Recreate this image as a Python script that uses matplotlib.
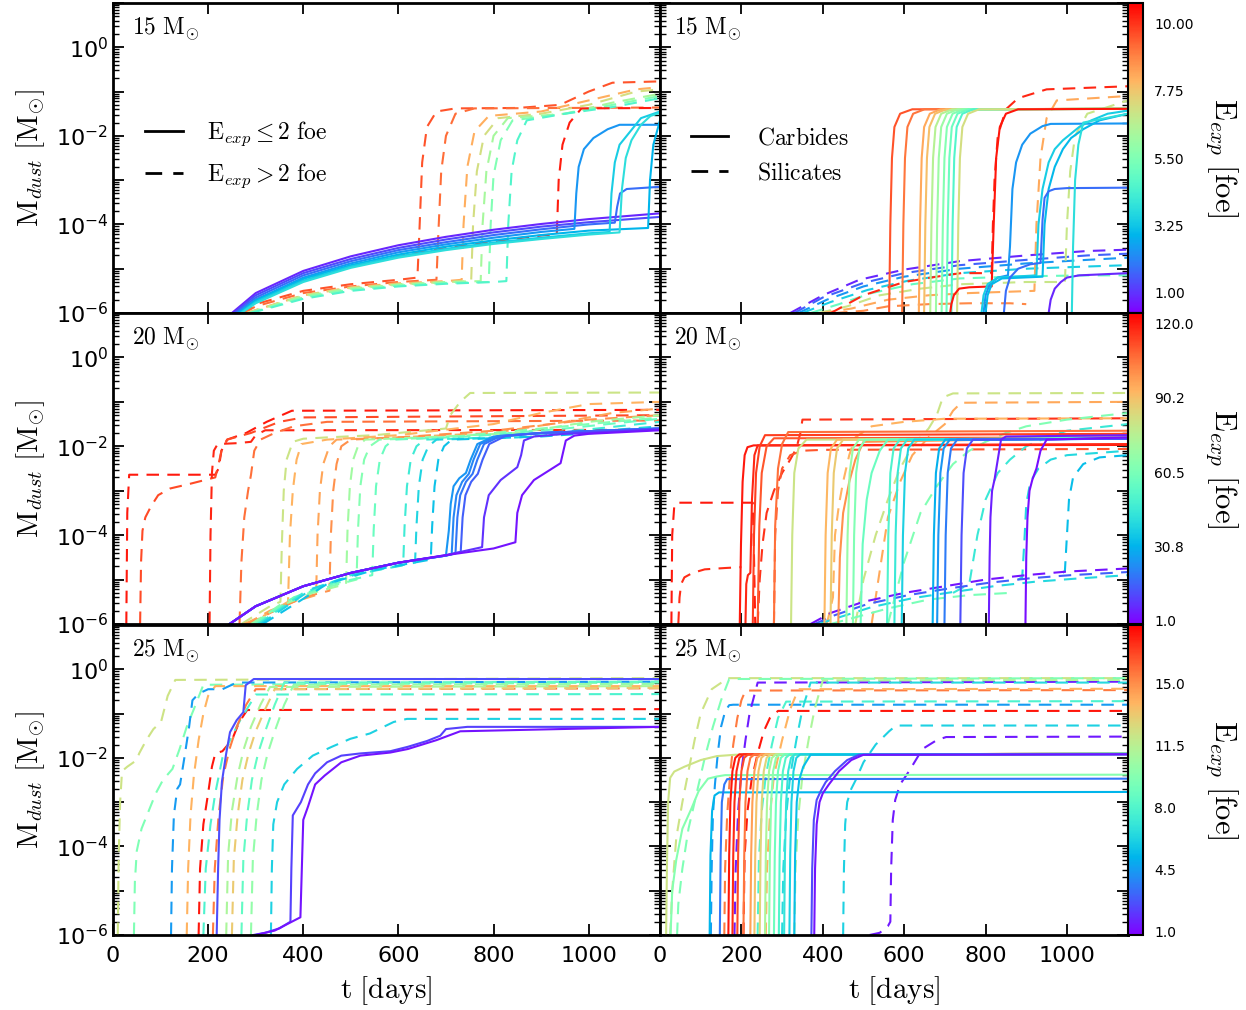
import numpy as np
import matplotlib
matplotlib.use('Agg')
import matplotlib.pyplot as plt
from matplotlib import cm, colors
from matplotlib.ticker import LogLocator, MultipleLocator, FuncFormatter, NullLocator
from matplotlib.lines import Line2D

plt.rcParams['mathtext.fontset'] = 'cm'
plt.rcParams['font.family'] = 'DejaVu Sans'

# ---------------- data: (E_exp, t [days], log10 M_dust) ----------------
# 15 Msun, left: total dust
m15_le2 = [
    (0.8, [250, 300, 400, 500, 600, 700, 800, 900, 1000, 1150],
          [-6, -5.55, -5.05, -4.72, -4.47, -4.28, -4.12, -3.99, -3.88, -3.75]),
    (1.3, [254, 300, 400, 500, 600, 700, 800, 900, 1000, 1150],
          [-6, -5.6, -5.1, -4.78, -4.53, -4.34, -4.18, -4.05, -3.95, -3.83]),
    (1.8, [258, 300, 400, 500, 600, 700, 800, 900, 1000, 1055, 1060, 1066, 1080, 1150],
          [-6, -5.65, -5.15, -4.83, -4.58, -4.4, -4.24, -4.11, -4.0, -3.96, -3.6, -3.3, -3.2, -3.15]),
    (2.4, [262, 300, 400, 500, 600, 700, 800, 900, 970, 974, 979, 990, 1010, 1040, 1065, 1150],
          [-6, -5.7, -5.2, -4.88, -4.63, -4.45, -4.3, -4.17, -4.1, -3.3, -2.7, -2.3, -2.05, -1.85, -1.75, -1.75]),
    (2.9, [265, 300, 400, 500, 600, 700, 800, 900, 1000, 1125, 1129, 1136, 1150],
          [-6, -5.72, -5.23, -4.92, -4.68, -4.5, -4.36, -4.24, -4.14, -4.08, -3.0, -2.2, -1.65]),
    (3.4, [268, 300, 400, 500, 600, 700, 800, 900, 1000, 1044, 1048, 1055, 1065, 1080, 1095, 1110, 1150],
          [-6, -5.75, -5.27, -4.95, -4.72, -4.55, -4.41, -4.3, -4.2, -4.17, -3.3, -2.6, -2.2, -2.0, -1.8, -1.6, -1.45]),
    (3.8, [270, 300, 400, 500, 600, 700, 800, 900, 1000, 1065, 1070, 1078, 1090, 1110, 1130, 1150],
          [-6, -5.78, -5.3, -4.98, -4.75, -4.58, -4.44, -4.33, -4.23, -4.18, -3.2, -2.5, -2.1, -1.75, -1.55, -1.48]),
]
m15_gt2 = [
    (9.6, [270, 300, 400, 500, 600, 640, 644, 650, 660, 680, 720, 850, 940, 1000, 1050, 1150],
          [-6, -5.8, -5.5, -5.35, -5.25, -5.2, -4.2, -2.6, -1.8, -1.45, -1.38, -1.37, -1.3, -1.0, -0.8, -0.77]),
    (9.2, [275, 300, 400, 500, 600, 680, 684, 690, 700, 720, 760, 1150],
          [-6, -5.85, -5.55, -5.4, -5.3, -5.25, -4.2, -2.8, -2.0, -1.5, -1.38, -1.36]),
    (8.2, [280, 400, 500, 600, 700, 733, 737, 745, 760, 790, 900, 1000, 1100, 1150],
          [-6, -5.6, -5.42, -5.33, -5.28, -5.25, -4.0, -2.7, -1.9, -1.55, -1.45, -1.2, -0.95, -0.9]),
    (7.2, [282, 400, 500, 600, 700, 753, 757, 765, 780, 810, 900, 1000, 1100, 1150],
          [-6, -5.6, -5.43, -5.35, -5.3, -5.28, -4.0, -2.8, -2.0, -1.6, -1.5, -1.3, -1.0, -0.95]),
    (6.3, [285, 400, 500, 600, 700, 773, 777, 785, 800, 830, 950, 1050, 1150],
          [-6, -5.62, -5.45, -5.36, -5.3, -5.28, -4.0, -2.8, -2.0, -1.6, -1.5, -1.25, -1.05]),
    (5.5, [288, 400, 500, 600, 700, 790, 794, 800, 815, 840, 950, 1050, 1150],
          [-6, -5.65, -5.47, -5.38, -5.32, -5.3, -4.0, -2.9, -2.1, -1.65, -1.5, -1.3, -1.1]),
    (4.6, [290, 400, 500, 600, 700, 800, 827, 831, 838, 850, 870, 950, 1050, 1150],
          [-6, -5.68, -5.5, -5.4, -5.34, -5.3, -5.28, -4.0, -2.8, -2.1, -1.65, -1.5, -1.35, -1.15]),
    (10.3, [262, 300, 400, 500, 600, 700, 800, 900, 933, 937, 945, 960, 985, 1150],
           [-6, -5.7, -5.25, -4.95, -4.7, -4.52, -4.38, -4.25, -4.22, -3.0, -2.2, -1.7, -1.38, -1.37]),
]
# 15 Msun, right: carbides / silicates
m15_carb = [
    (9.6, [563, 566, 570, 576, 590, 620, 1150], [-6, -4.0, -2.5, -1.8, -1.5, -1.4, -1.39]),
    (9.1, [595, 598, 602, 608, 622, 650, 1150], [-6, -4.0, -2.5, -1.8, -1.5, -1.4, -1.39]),
    (8.3, [636, 639, 643, 649, 663, 690, 1150], [-6, -4.0, -2.5, -1.8, -1.5, -1.4, -1.39]),
    (7.9, [649, 652, 656, 662, 676, 703, 1150], [-6, -4.0, -2.5, -1.8, -1.5, -1.4, -1.39]),
    (6.6, [664, 667, 671, 677, 691, 718, 1150], [-6, -4.0, -2.5, -1.8, -1.5, -1.4, -1.39]),
    (6.1, [678, 681, 685, 691, 705, 732, 1150], [-6, -4.0, -2.5, -1.8, -1.5, -1.4, -1.39]),
    (5.6, [692, 695, 699, 705, 719, 746, 1150], [-6, -4.0, -2.5, -1.8, -1.5, -1.4, -1.39]),
    (5.1, [704, 707, 711, 717, 731, 758, 1150], [-6, -4.0, -2.5, -1.8, -1.5, -1.4, -1.39]),
    (4.6, [716, 719, 723, 729, 743, 770, 1150], [-6, -4.0, -2.5, -1.8, -1.5, -1.4, -1.39]),
    (7.2, [730, 733, 737, 743, 757, 784, 1150], [-6, -4.0, -2.5, -1.8, -1.5, -1.4, -1.39]),
    (10.4, [713, 716, 722, 735, 760, 815, 820, 826, 835, 850, 880, 1150],
           [-6, -5.8, -5.6, -5.45, -5.42, -5.4, -4.0, -2.5, -1.8, -1.5, -1.4, -1.39]),
    (2.4, [795, 800, 810, 830, 855, 860, 866, 875, 890, 910, 940, 960, 1150],
          [-6, -5.6, -5.35, -5.2, -5.15, -4.5, -3.2, -2.6, -2.2, -1.95, -1.78, -1.73, -1.72]),
    (3.4, [790, 795, 805, 830, 925, 930, 940, 955, 970, 990, 1010, 1030, 1060, 1100, 1150],
          [-6, -5.6, -5.35, -5.2, -5.15, -4.0, -3.2, -2.6, -2.3, -2.1, -1.95, -1.8, -1.65, -1.5, -1.43]),
    (3.0, [800, 805, 815, 840, 940, 945, 955, 970, 990, 1010, 1040, 1080, 1150],
          [-6, -5.6, -5.35, -5.22, -5.18, -4.0, -3.2, -2.7, -2.3, -2.05, -1.85, -1.65, -1.5]),
    (1.8, [845, 850, 860, 880, 910, 935, 940, 945, 955, 970, 1000, 1150],
          [-6, -5.5, -5.2, -5.0, -4.9, -4.87, -3.9, -3.4, -3.25, -3.2, -3.18, -3.17]),
    (0.8, [955, 960, 970, 985, 1000, 1030, 1150], [-6, -5.7, -5.45, -5.3, -5.2, -5.15, -5.1]),
    (3.8, [1012, 1015, 1020, 1028, 1040, 1150], [-6, -4.5, -3.0, -2.2, -1.7, -1.5]),
]
m15_sil = [
    (0.8, [320, 400, 490, 600, 736, 900, 1050, 1150], [-6, -5.6, -5.25, -5.02, -4.83, -4.7, -4.6, -4.57]),
    (1.6, [330, 400, 500, 600, 736, 900, 1050, 1150], [-6, -5.65, -5.32, -5.1, -4.92, -4.8, -4.7, -4.66]),
    (2.4, [340, 410, 500, 600, 736, 900, 1050, 1150], [-6, -5.7, -5.4, -5.18, -5.0, -4.88, -4.8, -4.75]),
    (3.4, [350, 420, 510, 610, 736, 900, 1050, 1150], [-6, -5.75, -5.48, -5.27, -5.1, -5.0, -4.95, -4.92]),
    (5.0, [370, 440, 520, 620, 736, 900, 1050, 1150], [-6, -5.8, -5.55, -5.35, -5.22, -5.17, -5.15, -5.15]),
    (7.0, [390, 460, 540, 640, 740, 900, 995, 1000, 1008, 1020, 1050, 1150],
          [-6, -5.85, -5.6, -5.45, -5.35, -5.3, -5.3, -4.0, -2.8, -2.0, -1.5, -1.2]),
    (8.3, [400, 470, 560, 660, 760, 920, 925, 935, 950, 975, 1150],
          [-6, -5.9, -5.7, -5.6, -5.55, -5.5, -4.0, -2.5, -1.6, -1.2, -1.1]),
    (8.8, [430, 500, 560, 660, 760, 860, 900], [-6, -5.95, -5.85, -5.8, -5.78, -5.78, -5.8]),
    (10.2, [420, 500, 600, 700, 740, 815, 818, 822, 830, 850, 880, 950, 1150],
           [-6, -5.6, -5.3, -5.15, -5.1, -5.1, -4.0, -3.0, -2.0, -1.4, -1.15, -0.95, -0.88]),
]

# 20 Msun
m20_le2 = [
    (25, [245, 300, 400, 500, 600, 700, 706, 710, 716, 728, 742, 752, 766, 800, 900, 1150],
         [-6, -5.6, -5.15, -4.85, -4.62, -4.46, -3.9, -3.3, -2.9, -2.72, -2.6, -2.3, -1.95, -1.78, -1.7, -1.6]),
    (22, [245, 300, 400, 500, 600, 700, 712, 716, 722, 734, 748, 758, 772, 808, 900, 1150],
         [-6, -5.6, -5.15, -4.85, -4.62, -4.46, -4.43, -3.6, -3.1, -2.8, -2.62, -2.3, -1.95, -1.77, -1.7, -1.6]),
    (19, [245, 300, 400, 500, 600, 700, 720, 724, 730, 742, 756, 766, 780, 815, 900, 1150],
         [-6, -5.6, -5.15, -4.85, -4.62, -4.46, -4.41, -3.6, -3.1, -2.8, -2.62, -2.3, -1.95, -1.77, -1.7, -1.6]),
    (15, [245, 300, 400, 500, 600, 700, 731, 735, 741, 753, 767, 777, 791, 825, 900, 1150],
         [-6, -5.6, -5.15, -4.85, -4.62, -4.46, -4.38, -3.6, -3.1, -2.8, -2.62, -2.3, -1.95, -1.77, -1.7, -1.6]),
    (8, [245, 300, 400, 500, 600, 700, 776, 780, 790, 815, 850, 858, 864, 885, 950, 1150],
        [-6, -5.6, -5.15, -4.85, -4.62, -4.45, -4.27, -3.6, -3.1, -2.76, -2.47, -2.2, -1.87, -1.78, -1.72, -1.62]),
    (3, [245, 300, 400, 500, 600, 700, 800, 846, 850, 860, 885, 941, 947, 952, 970, 1000, 1150],
        [-6, -5.6, -5.15, -4.85, -4.62, -4.45, -4.3, -4.16, -3.5, -3.1, -2.76, -2.38, -2.1, -1.87, -1.76, -1.72, -1.64]),
]
m20_gt2 = [
    (120, [28, 30, 34, 215, 222, 228, 240, 280, 323, 376, 1150],
          [-6, -3.5, -2.64, -2.64, -2.5, -2.1, -1.85, -1.7, -1.45, -1.2, -1.18]),
    (112, [57, 59, 62, 68, 80, 95, 120, 160, 215, 222, 228, 240, 290, 350, 400, 1150],
          [-6, -4.6, -3.9, -3.6, -3.35, -3.1, -2.95, -2.85, -2.7, -2.4, -2.1, -1.85, -1.7, -1.45, -1.35, -1.3]),
    (118, [203, 205, 208, 212, 220, 260, 290, 300, 320, 1150],
          [-6, -4.0, -2.6, -2.1, -1.95, -1.93, -1.9, -1.75, -1.64, -1.63]),
    (106, [266, 270, 276, 284, 290, 297, 310, 340, 380, 450, 1150],
          [-6, -4.6, -3.6, -3.0, -2.65, -2.1, -1.85, -1.7, -1.55, -1.45, -1.42]),
    (80, [270, 300, 330, 352, 355, 359, 365, 378, 400, 450, 550, 650, 700, 709, 730, 751, 1150],
         [-6, -5.8, -5.6, -5.5, -4.2, -3.0, -2.3, -1.9, -1.83, -1.8, -1.75, -1.65, -1.6, -1.3, -1.0, -0.8, -0.79]),
    (93, [275, 320, 360, 368, 372, 378, 386, 396, 450, 600, 800, 900, 1000, 1150],
         [-6, -5.8, -5.55, -5.5, -4.0, -3.0, -2.3, -1.95, -1.85, -1.75, -1.5, -1.25, -1.05, -1.0]),
    (96, [280, 330, 380, 427, 430, 435, 442, 455, 470, 600, 800, 950, 1050, 1150],
         [-6, -5.7, -5.5, -5.35, -4.0, -3.0, -2.4, -2.0, -1.85, -1.8, -1.7, -1.45, -1.25, -1.15]),
    (100, [285, 340, 400, 455, 458, 463, 470, 480, 500, 600, 800, 1000, 1150],
          [-6, -5.7, -5.4, -5.25, -4.0, -3.0, -2.4, -2.0, -1.85, -1.8, -1.65, -1.4, -1.3]),
    (70, [290, 350, 420, 490, 493, 498, 505, 515, 530, 650, 850, 1000, 1150],
         [-6, -5.6, -5.3, -5.1, -3.9, -2.9, -2.3, -2.0, -1.85, -1.8, -1.7, -1.45, -1.3]),
    (63, [295, 360, 440, 512, 515, 520, 528, 540, 560, 700, 900, 1150],
         [-6, -5.5, -5.2, -5.0, -3.9, -2.9, -2.3, -2.0, -1.85, -1.8, -1.6, -1.35]),
    (57, [300, 380, 460, 545, 548, 553, 561, 573, 590, 750, 950, 1150],
         [-6, -5.4, -5.1, -4.9, -3.9, -2.9, -2.3, -2.0, -1.85, -1.78, -1.6, -1.38]),
    (46, [305, 400, 500, 610, 613, 618, 626, 638, 655, 800, 1000, 1150],
         [-6, -5.3, -4.9, -4.68, -3.8, -2.9, -2.3, -2.0, -1.85, -1.8, -1.62, -1.45]),
    (39, [310, 420, 520, 635, 638, 643, 651, 663, 680, 850, 1150],
         [-6, -5.2, -4.85, -4.62, -3.8, -2.9, -2.3, -2.0, -1.85, -1.8, -1.55]),
    (34, [315, 450, 550, 668, 671, 676, 684, 696, 712, 900, 1150],
         [-6, -5.1, -4.78, -4.55, -3.8, -2.9, -2.3, -2.0, -1.85, -1.78, -1.6]),
]
m20_carb = [
    (120, [196, 199, 203, 208, 215, 230, 1150], [-6, -4.2, -2.8, -2.2, -2.02, -1.98, -1.97]),
    (118, [210, 212, 216, 222, 226, 232, 240, 1150], [-6, -5.1, -4.9, -4.85, -3.2, -2.2, -1.98, -1.95]),
    (114, [228, 231, 236, 245, 258, 1150], [-6, -4.0, -2.6, -2.0, -1.75, -1.72]),
    (110, [240, 244, 250, 262, 280, 1150], [-6, -3.8, -2.6, -2.0, -1.82, -1.8]),
    (106, [280, 283, 290, 300, 315, 1150], [-6, -3.8, -2.5, -1.95, -1.68, -1.65]),
    (80, [322, 325, 330, 340, 360, 1150], [-6, -4.0, -2.6, -2.05, -1.85, -1.83]),
    (92, [404, 407, 412, 420, 435, 1150], [-6, -4.0, -2.6, -2.05, -1.85, -1.83]),
    (88, [419, 422, 427, 435, 450, 1150], [-6, -4.0, -2.6, -2.05, -1.85, -1.83]),
    (100, [438, 442, 450, 465, 480, 500, 1150], [-6, -4.5, -3.5, -2.8, -2.3, -1.9, -1.8]),
    (68, [458, 461, 466, 474, 489, 1150], [-6, -4.0, -2.6, -2.05, -1.85, -1.83]),
    (62, [474, 477, 482, 490, 505, 1150], [-6, -4.0, -2.6, -2.05, -1.85, -1.83]),
    (57, [493, 498, 508, 520, 540, 560, 1150], [-6, -4.2, -3.2, -2.6, -2.1, -1.85, -1.8]),
    (50, [558, 561, 566, 574, 589, 1150], [-6, -4.0, -2.6, -2.05, -1.85, -1.83]),
    (45, [576, 579, 584, 592, 607, 1150], [-6, -4.0, -2.6, -2.05, -1.85, -1.83]),
    (38, [594, 597, 602, 610, 625, 1150], [-6, -4.0, -2.6, -2.05, -1.85, -1.83]),
    (30, [670, 673, 678, 686, 701, 1150], [-6, -4.0, -2.6, -2.05, -1.85, -1.83]),
    (25, [681, 684, 689, 697, 712, 1150], [-6, -4.0, -2.6, -2.05, -1.85, -1.83]),
    (20, [699, 702, 707, 715, 730, 1150], [-6, -4.0, -2.6, -2.05, -1.85, -1.83]),
    (12, [738, 741, 746, 754, 769, 1150], [-6, -4.0, -2.6, -2.05, -1.85, -1.83]),
    (5, [808, 810, 812, 816, 822, 830, 838, 850, 1150], [-6, -4.5, -3.6, -3.0, -2.75, -2.3, -1.85, -1.78, -1.75]),
    (2, [898, 900, 903, 908, 915, 925, 935, 950, 1150], [-6, -4.5, -3.6, -3.0, -2.75, -2.5, -2.1, -1.85, -1.8]),
]
m20_sil = [
    (120, [28, 30, 35, 40, 228, 230, 232, 234], [-6, -4.0, -3.35, -3.27, -3.27, -4.0, -5.0, -6.0]),
    (117, [45, 48, 52, 60, 80, 110, 160, 200], [-6, -5.4, -5.1, -4.95, -4.85, -4.77, -4.74, -4.72]),
    (116, [240, 245, 252, 262, 280, 300, 320, 335, 345, 350, 1150],
          [-6, -5.0, -4.2, -3.5, -3.0, -2.6, -2.3, -2.05, -1.7, -1.4, -1.37]),
    (110, [280, 283, 290, 300, 320, 350, 400, 1150], [-6, -4.0, -3.0, -2.5, -2.2, -2.1, -2.08, -2.06]),
    (93, [410, 425, 430, 440, 450, 465, 480, 520, 600, 700, 1150],
         [-6, -5.4, -4.0, -3.3, -2.8, -2.2, -1.8, -1.55, -1.45, -1.38, -1.37]),
    (80, [480, 500, 530, 560, 590, 620, 660, 680, 695, 720, 1150],
         [-6, -5.0, -4.0, -3.2, -2.5, -2.0, -1.6, -1.3, -0.9, -0.81, -0.8]),
    (95, [520, 540, 560, 590, 620, 660, 700, 720, 740, 1150],
         [-6, -4.8, -3.6, -2.8, -2.2, -1.8, -1.5, -1.2, -1.02, -1.0]),
    (62, [560, 600, 640, 680, 720, 760, 800, 850, 900, 1000, 1150],
         [-6, -4.6, -3.5, -2.9, -2.4, -2.1, -1.9, -1.7, -1.55, -1.4, -1.25]),
    (45, [720, 760, 780, 800, 830, 860, 900, 950, 1000, 1150],
         [-5.3, -5.1, -4.0, -3.2, -2.6, -2.3, -2.0, -1.8, -1.65, -1.5]),
    (40, [880, 890, 895, 900, 910, 930, 960, 1000, 1150], [-5.0, -4.95, -4.2, -3.3, -2.8, -2.5, -2.3, -2.2, -2.1]),
    (33, [990, 995, 1000, 1005, 1015, 1040, 1080, 1150], [-4.85, -4.8, -4.0, -3.2, -2.7, -2.4, -2.25, -2.2]),
    (3, [370, 420, 500, 600, 700, 800, 900, 1000, 1150], [-6, -5.75, -5.5, -5.3, -5.15, -5.0, -4.9, -4.82, -4.75]),
    (15, [380, 430, 510, 610, 710, 810, 910, 1010, 1150], [-6, -5.8, -5.55, -5.35, -5.2, -5.07, -4.97, -4.9, -4.83]),
    (40, [390, 440, 520, 620, 720, 820, 920, 1020, 1150], [-6, -5.85, -5.62, -5.42, -5.28, -5.15, -5.05, -4.98, -4.9]),
    (60, [420, 480, 560, 660, 760, 860], [-6, -5.85, -5.65, -5.45, -5.35, -5.3]),
]

# 25 Msun
m25_le2 = [
    (2.6, [218, 221, 224, 229, 238, 246, 260, 274, 279, 296, 1150],
          [-6, -4.5, -3.4, -2.54, -1.9, -1.42, -1.15, -0.97, -0.36, -0.22, -0.22]),
    (2.3, [295, 320, 350, 373, 375, 378, 395, 410, 425, 450, 480, 520, 583, 620, 660, 688, 700, 745, 1150],
          [-6, -5.95, -5.85, -5.7, -4.5, -3.3, -3.0, -2.6, -2.35, -2.1, -1.95, -1.9, -1.85, -1.75, -1.62, -1.5, -1.35, -1.3, -1.3]),
    (1.3, [300, 340, 394, 397, 400, 410, 425, 445, 480, 520, 583, 620, 680, 730, 1150],
          [-6, -5.9, -5.6, -4.5, -3.4, -3.1, -2.6, -2.4, -2.1, -1.95, -1.88, -1.8, -1.6, -1.4, -1.3]),
]
m25_gt2 = [
    (12.2, [10, 12, 15, 19, 30, 50, 55, 70, 85, 101, 115, 131, 1150],
           [-6, -4.2, -3.0, -2.3, -2.2, -2.05, -1.9, -1.6, -1.35, -1.19, -0.6, -0.24, -0.2]),
    (9.5, [44, 46, 50, 60, 75, 90, 105, 125, 140, 155, 170, 190, 1150],
          [-6, -4.8, -4.1, -3.6, -3.2, -2.8, -2.5, -2.25, -1.8, -1.3, -0.9, -0.35, -0.3]),
    (4.5, [122, 124, 128, 135, 141, 150, 160, 167, 180, 200, 230, 260, 1150],
          [-6, -4.5, -3.3, -2.7, -2.6, -2.0, -1.3, -0.7, -0.55, -0.45, -0.45, -0.3, -0.28]),
    (14.0, [155, 158, 163, 170, 180, 190, 200, 215, 1150], [-6, -4.5, -3.3, -2.4, -1.6, -1.0, -0.6, -0.38, -0.38]),
    (17.8, [180, 183, 190, 200, 208, 215, 230, 250, 265, 282, 1150],
           [-6, -4.5, -3.5, -2.8, -2.2, -1.9, -1.85, -1.6, -1.2, -0.92, -0.9]),
    (7.8, [190, 195, 205, 215, 230, 250, 270, 290, 300, 1150],
          [-6, -4.5, -3.5, -2.8, -2.0, -1.5, -1.1, -0.75, -0.57, -0.56]),
    (15.5, [210, 214, 222, 232, 245, 260, 280, 300, 1150], [-6, -4.5, -3.3, -2.4, -1.8, -1.3, -0.8, -0.45, -0.43]),
    (11.0, [238, 242, 250, 262, 275, 290, 310, 330, 1150], [-6, -4.2, -3.2, -2.4, -1.8, -1.3, -0.8, -0.4, -0.38]),
    (13.2, [250, 254, 262, 272, 285, 300, 320, 340, 1150], [-6, -4.3, -3.3, -2.5, -1.9, -1.4, -0.9, -0.45, -0.42]),
    (8.6, [270, 274, 282, 292, 305, 320, 340, 360, 1150], [-6, -4.3, -3.3, -2.5, -1.9, -1.4, -0.8, -0.3, -0.28]),
    (10.2, [290, 294, 302, 312, 325, 340, 360, 380, 1150], [-6, -4.3, -3.3, -2.5, -1.9, -1.4, -0.8, -0.35, -0.33]),
    (6.2, [332, 334, 337, 345, 360, 387, 420, 460, 499, 540, 590, 618, 1150],
          [-6, -4.5, -3.5, -3.0, -2.6, -2.25, -1.95, -1.75, -1.57, -1.45, -1.19, -1.12, -1.12]),
]
m25_carb = [
    (12.2, [15, 17, 20, 25, 35, 60, 100, 140, 185, 1150], [-6, -4.5, -3.0, -2.45, -2.31, -2.2, -2.05, -1.96, -1.93, -1.92]),
    (9.8, [26, 30, 40, 55, 77, 95, 118, 140, 160, 1150], [-6, -5.0, -4.3, -3.6, -3.15, -2.75, -2.47, -2.42, -2.39, -2.38]),
    (5.2, [122, 124, 128, 134, 145, 1150], [-6, -4.2, -3.2, -2.85, -2.78, -2.77]),
    (3.5, [147, 149, 152, 158, 165, 1150], [-6, -4.2, -3.0, -2.6, -2.48, -2.47]),
    (17.8, [168, 170, 173, 178, 185, 195, 1150], [-6, -4.2, -3.0, -2.3, -2.0, -1.92, -1.91]),
    (17.4, [178, 180, 183, 188, 195, 205, 1150], [-6, -4.2, -3.0, -2.3, -2.0, -1.92, -1.91]),
    (16.6, [190, 192, 195, 200, 207, 217, 1150], [-6, -4.2, -3.0, -2.3, -2.0, -1.92, -1.91]),
    (15.6, [205, 207, 210, 215, 222, 232, 1150], [-6, -4.2, -3.0, -2.3, -2.0, -1.92, -1.91]),
    (14.5, [222, 224, 227, 232, 239, 249, 1150], [-6, -4.2, -3.0, -2.3, -2.0, -1.92, -1.91]),
    (13.5, [232, 234, 237, 242, 249, 259, 1150], [-6, -4.2, -3.0, -2.3, -2.0, -1.92, -1.91]),
    (12.8, [245, 247, 250, 255, 262, 272, 1150], [-6, -4.2, -3.0, -2.3, -2.0, -1.92, -1.91]),
    (11.0, [258, 260, 263, 268, 275, 285, 1150], [-6, -4.2, -3.0, -2.3, -2.0, -1.92, -1.91]),
    (10.0, [268, 270, 273, 278, 285, 295, 1150], [-6, -4.2, -3.0, -2.3, -2.0, -1.92, -1.91]),
    (9.0, [280, 282, 285, 290, 297, 307, 1150], [-6, -4.2, -3.0, -2.3, -2.0, -1.92, -1.91]),
    (8.0, [292, 294, 297, 302, 309, 319, 1150], [-6, -4.2, -3.0, -2.3, -2.0, -1.92, -1.91]),
    (7.0, [305, 307, 310, 315, 322, 332, 1150], [-6, -4.2, -3.0, -2.3, -2.0, -1.92, -1.91]),
    (6.2, [318, 320, 323, 328, 335, 345, 1150], [-6, -4.2, -3.0, -2.3, -2.0, -1.92, -1.91]),
    (5.5, [330, 332, 336, 342, 352, 370, 1150], [-6, -4.2, -3.0, -2.5, -2.2, -1.93, -1.92]),
    (2.5, [372, 374, 378, 385, 395, 407, 430, 460, 489, 1150], [-6, -4.5, -3.4, -2.95, -2.75, -2.55, -2.3, -2.05, -1.93, -1.92]),
    (1.3, [379, 381, 385, 392, 400, 415, 440, 470, 500, 1150], [-6, -4.5, -3.5, -3.0, -2.8, -2.6, -2.3, -2.05, -1.93, -1.92]),
]
m25_sil = [
    (12.2, [25, 30, 40, 55, 70, 85, 100, 127, 167, 1150], [-6, -5.0, -3.8, -3.0, -2.3, -1.6, -1.0, -0.45, -0.2, -0.2]),
    (9.5, [42, 45, 55, 70, 90, 110, 130, 150, 170, 1150], [-6, -5.3, -4.5, -3.6, -2.8, -2.0, -1.3, -0.7, -0.22, -0.2]),
    (4.5, [125, 127, 130, 135, 142, 150, 160, 170, 180, 1150], [-6, -4.5, -3.3, -2.6, -1.9, -1.3, -0.95, -0.81, -0.8, -0.8]),
    (15.5, [158, 160, 165, 172, 180, 190, 200, 210, 1150], [-6, -4.5, -3.3, -2.4, -1.7, -1.1, -0.7, -0.48, -0.47]),
    (17.8, [205, 208, 215, 225, 240, 255, 270, 290, 1150], [-6, -4.2, -3.2, -2.5, -1.9, -1.4, -1.1, -0.94, -0.94]),
    (1.5, [183, 186, 192, 200, 210, 220, 240, 1150], [-6, -4.5, -3.2, -2.3, -1.6, -1.0, -0.3, -0.28]),
    (7.8, [240, 243, 250, 260, 275, 290, 310, 1150], [-6, -4.3, -3.2, -2.4, -1.7, -1.1, -0.73, -0.72]),
    (14.0, [260, 263, 270, 280, 300, 320, 340, 1150], [-6, -4.5, -3.3, -2.4, -1.6, -0.9, -0.45, -0.44]),
    (6.5, [300, 303, 310, 320, 335, 350, 370, 1150], [-6, -4.5, -3.3, -2.4, -1.6, -0.9, -0.3, -0.3]),
    (11.0, [330, 333, 340, 350, 365, 380, 400, 1150], [-6, -4.5, -3.3, -2.4, -1.6, -0.9, -0.25, -0.24]),
    (6.2, [450, 452, 455, 460, 470, 481, 500, 530, 563, 580, 1150],
          [-6, -4.5, -3.5, -3.0, -2.7, -2.5, -2.1, -1.7, -1.4, -1.27, -1.27]),
    (1.4, [515, 540, 560, 566, 568, 572, 578, 590, 612, 645, 680, 703, 1150],
          [-6, -5.95, -5.8, -5.7, -4.5, -3.4, -2.95, -2.6, -2.3, -1.8, -1.6, -1.53, -1.52]),
]

row_labels = [r'$15\ \mathrm{M}_{\odot}$', r'$20\ \mathrm{M}_{\odot}$', r'$25\ \mathrm{M}_{\odot}$']
row_left = [(m15_le2, m15_gt2), (m20_le2, m20_gt2), (m25_le2, m25_gt2)]
row_right = [(m15_carb, m15_sil), (m20_carb, m20_sil), (m25_carb, m25_sil)]
cbar_range = [(0.3, 10.7), (-0.2, 124.0), (0.83, 18.3)]
cbar_ticks = [[1.0, 3.25, 5.5, 7.75, 10.0], [1.0, 30.8, 60.5, 90.2, 120.0], [1.0, 4.5, 8.0, 11.5, 15.0]]
cbar_fmt = ['%.2f', '%.1f', '%.1f']

# ---------------- figure ----------------
W, H = 1246., 1010.
fig = plt.figure(figsize=(12.46, 10.10), dpi=100)
cmap = plt.get_cmap('rainbow')
DASH = (0, (6, 4))
LW = 1.5


def yfmt(v, pos):
    e = int(round(np.log10(v)))
    if e % 2:
        return ''
    return r'$\mathdefault{10^{%d}}$' % e


def style(ax, xlabels, ylabels):
    ax.set_yscale('log')
    ax.set_xlim(0, 1150)
    ax.set_ylim(1e-6, 1e1)
    ax.xaxis.set_major_locator(MultipleLocator(200))
    ax.xaxis.set_minor_locator(NullLocator())
    ax.yaxis.set_major_locator(LogLocator(base=10, numticks=20))
    ax.yaxis.set_minor_locator(LogLocator(base=10, subs=np.arange(2, 10), numticks=20))
    ax.yaxis.set_major_formatter(FuncFormatter(yfmt))
    ax.tick_params(which='both', direction='in', top=True, right=True)
    ax.tick_params(which='major', length=8, width=1.3, labelsize=16)
    ax.tick_params(which='minor', length=4, width=1.0)
    ax.tick_params(axis='x', pad=8)
    for s in ax.spines.values():
        s.set_linewidth(2)
    if not xlabels:
        ax.set_xticklabels([])
    if not ylabels:
        ax.set_yticklabels([])
        ax.yaxis.set_minor_formatter(plt.NullFormatter())


def draw(ax, curves, norm, ls):
    for e, t, lm in curves:
        ax.plot(t, 10.0 ** np.asarray(lm, dtype=float), color=cmap(norm(e)), ls=ls, lw=LW)


row_px = [(3, 313), (313, 624), (625, 935)]
for i in range(3):
    y0, y1 = row_px[i]
    bottom = 1 - y1 / H
    height = (y1 - y0) / H
    norm = colors.Normalize(*cbar_range[i])
    axl = fig.add_axes([113 / W, bottom, 547 / W, height])
    axr = fig.add_axes([660 / W, bottom, 468 / W, height])
    cax = fig.add_axes([1128 / W, bottom, 15 / W, height])

    le2, gt2 = row_left[i]
    draw(axl, gt2, norm, DASH)
    draw(axl, le2, norm, '-')
    carb, sil = row_right[i]
    draw(axr, sil, norm, DASH)
    draw(axr, carb, norm, '-')

    last = (i == 2)
    style(axl, last, True)
    style(axr, last, False)
    axl.set_ylabel(r'$\mathrm{M}_{dust}\ [\mathrm{M}_{\odot}]$', fontsize=21, labelpad=6)
    if last:
        axl.set_xlabel(r'$\mathrm{t\ [days]}$', fontsize=21, labelpad=6)
        axr.set_xlabel(r'$\mathrm{t\ [days]}$', fontsize=21, labelpad=6)
    axl.text(0.035, 0.915, row_labels[i], transform=axl.transAxes, fontsize=17, va='center')
    axr.text(0.03, 0.915, row_labels[i], transform=axr.transAxes, fontsize=17, va='center')

    sm = cm.ScalarMappable(norm=norm, cmap=cmap)
    cb = fig.colorbar(sm, cax=cax, ticks=cbar_ticks[i], format=cbar_fmt[i])
    cb.outline.set_linewidth(1.5)
    cax.tick_params(length=0, labelsize=10, pad=8)
    fig.text(1222 / W, 1 - (y0 + y1) / 2 / H, r'$\mathrm{E}_{exp}\ [\mathrm{foe}]$',
             rotation=270, ha='center', va='center', fontsize=22)

    if i == 0:
        h = [Line2D([], [], color='k', lw=2), Line2D([], [], color='k', lw=2, ls=DASH)]
        axl.legend(h, [r'$\mathrm{E}_{exp} \leq 2\ \mathrm{foe}$', r'$\mathrm{E}_{exp} > 2\ \mathrm{foe}$'],
                   loc='center left', bbox_to_anchor=(0.02, 0.51), frameon=False, fontsize=17,
                   handlelength=1.6, handletextpad=1.0, labelspacing=0.6)
        axr.legend(h, [r'$\mathrm{Carbides}$', r'$\mathrm{Silicates}$'],
                   loc='center left', bbox_to_anchor=(0.02, 0.51), frameon=False, fontsize=17,
                   handlelength=1.6, handletextpad=1.2, labelspacing=0.45)

fig.savefig('out.png', dpi=100)
